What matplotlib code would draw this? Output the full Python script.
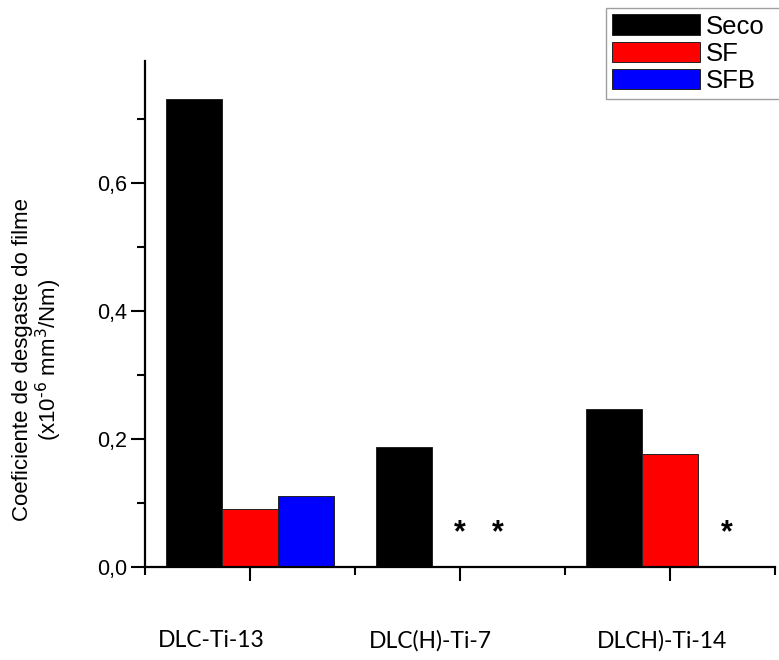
import matplotlib
matplotlib.use("Agg")
import matplotlib.pyplot as plt
from matplotlib.ticker import FuncFormatter, MultipleLocator
import numpy as np

# wear coefficient data (x10^-6 mm3/Nm)
samples = ["DLC-Ti-13", "DLC(H)-Ti-7", "DLCH)-Ti-14"]
series_names = ["Seco", "SF", "SFB"]
seco = [0.732, 0.1875, 0.247]
sf = [0.0906, 0.0, 0.177]
sfb = [0.111, 0.0, 0.0]
colors = ["#000000", "#ff0000", "#0000ff"]

# asterisks for conditions without measurable wear
star_x = [2.0, 2.18, 3.27]
star_y = [0.053, 0.053, 0.053]

plt.rcParams["font.family"] = ["Liberation Sans", "DejaVu Sans"]

fig = plt.figure(figsize=(7.79, 6.6), dpi=100)
ax = fig.add_axes([145 / 779, 1 - 567.3 / 660, 630 / 779, 506.3 / 660])

x = np.arange(1, len(samples) + 1)
w = 0.268
bars = []
for i, (vals, name, c) in enumerate(zip([seco, sf, sfb], series_names, colors)):
    b = ax.bar(x + (i - 1) * w, vals, w, color=c, edgecolor="#222222",
               linewidth=0.7, label=name)
    bars.append(b)

for sx, sy in zip(star_x, star_y):
    ax.text(sx, sy, "*", ha="center", va="center", fontsize=22,
            fontweight="bold", color="black")

ax.set_xlim(0.5, 3.5)
ax.set_ylim(0, 0.791)
ax.yaxis.set_major_locator(MultipleLocator(0.2))
ax.yaxis.set_minor_locator(MultipleLocator(0.1))
ax.yaxis.set_major_formatter(FuncFormatter(lambda v, p: ("%.1f" % v).replace(".", ",")))
ax.set_xticks(x)
ax.set_xticklabels([])
ax.set_xticks([0.5, 1.5, 2.5, 3.5], minor=True)

for s in ["top", "right"]:
    ax.spines[s].set_visible(False)
for s in ["left", "bottom"]:
    ax.spines[s].set_linewidth(1.6)

ax.tick_params(axis="both", which="major", direction="out", length=10,
               width=1.5, labelsize=15.5, pad=3)
ax.tick_params(axis="both", which="minor", direction="out", length=6,
               width=1.5)

ax.set_ylabel("Coeficiente de desgaste do filme\n(x10$^{\\text{-}6}$ mm$^{3}$/Nm)",
              fontsize=16, linespacing=1.05)
ax.yaxis.set_label_coords(-0.128, 0.41)

# sample names written below the axis
label_x = [0.814, 1.857, 2.962]
for lx, s in zip(label_x, samples):
    ax.text(lx, -0.145, s, transform=ax.get_xaxis_transform(), ha="center",
            va="center", fontsize=16.5, family=["Lato", "DejaVu Sans"])

# legend box runs past the right edge of the figure, as in the original
leg = fig.legend(handles=bars, labels=series_names, loc="upper left",
                 bbox_to_anchor=(606 / 779, 1 - 98 / 660, 190 / 779, 90 / 660),
                 mode="expand", fontsize=18.5,
                 frameon=True, fancybox=False, handlelength=3.4,
                 handleheight=0.85, labelspacing=0.12, handletextpad=0.25,
                 borderpad=0.25, borderaxespad=0)
leg.get_frame().set_edgecolor("#888888")
leg.get_frame().set_linewidth(1.0)

fig.savefig("out.png", dpi=100)
